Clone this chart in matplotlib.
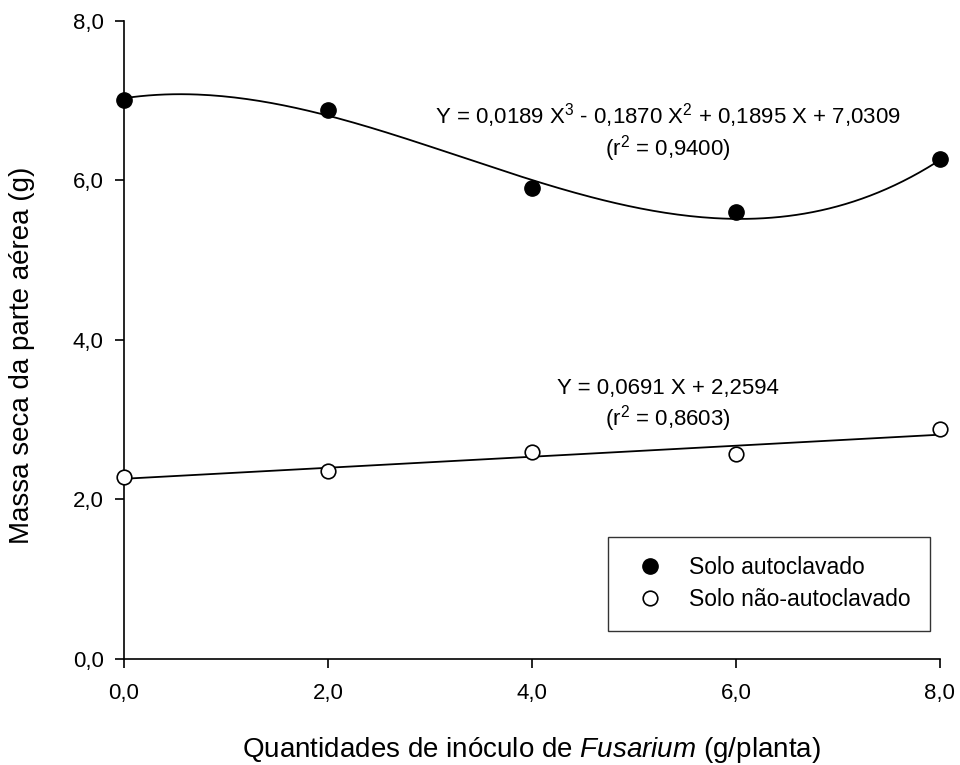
import numpy as np
import matplotlib
matplotlib.use("Agg")
import matplotlib.pyplot as plt
from matplotlib.lines import Line2D

plt.rcParams['font.family'] = ['Liberation Sans', 'DejaVu Sans']
plt.rcParams['mathtext.fontset'] = 'custom'
plt.rcParams['mathtext.rm'] = 'Liberation Sans'
plt.rcParams['mathtext.it'] = 'Liberation Sans:italic'

# data
doses = [0, 2, 4, 6, 8]
autoclavado = [7.01, 6.88, 5.90, 5.60, 6.27]
nao_autoclavado = [2.28, 2.36, 2.60, 2.57, 2.88]

# regression coefficients given in the figure (highest degree first)
coef_cubic = [0.0189, -0.1870, 0.1895, 7.0309]
coef_linear = [0.0691, 2.2594]

ticks = [0, 2, 4, 6, 8]
tick_labels = ["0,0", "2,0", "4,0", "6,0", "8,0"]

fig = plt.figure(figsize=(9.6, 7.65), dpi=100)
ax = fig.add_axes([0.129, 0.1386, 0.850, 0.834])

xs = np.linspace(0, 8, 200)
ax.plot(xs, np.polyval(coef_cubic, xs), color='black', lw=1.3, zorder=2)
ax.plot(xs, np.polyval(coef_linear, xs), color='black', lw=1.3, zorder=2)

ax.plot(doses, autoclavado, 'o', color='black', ms=11, zorder=3, clip_on=False)
ax.plot(doses, nao_autoclavado, 'o', mfc='white', mec='black', mew=1.2, ms=10.5,
        zorder=3, clip_on=False)

ax.set_xlim(0, 8)
ax.set_ylim(0, 8)
ax.set_xticks(ticks)
ax.set_xticklabels(tick_labels)
ax.set_yticks(ticks)
ax.set_yticklabels(tick_labels)
ax.tick_params(direction='out', length=6.5, width=1.2, labelsize=16)
ax.tick_params(axis='x', pad=11)
ax.tick_params(axis='y', pad=8)
for s in ['top', 'right']:
    ax.spines[s].set_visible(False)
for s in ['left', 'bottom']:
    ax.spines[s].set_linewidth(1.2)

ax.set_xlabel("Quantidades de inóculo de $\\it{Fusarium}$ (g/planta)", fontsize=20, va='center')
ax.xaxis.set_label_coords(0.5, -0.143)
ax.set_ylabel("Massa seca da parte aérea (g)", fontsize=20, va='center')
ax.yaxis.set_label_coords(-0.125, 0.476)

ax.text(5.33, 6.82, "Y = 0,0189 X$^3$ - 0,1870 X$^2$ + 0,1895 X + 7,0309",
        fontsize=16, ha='center', va='center')
ax.text(5.33, 6.40, "(r$^2$ = 0,9400)", fontsize=16, ha='center', va='center')
ax.text(5.33, 3.39, "Y = 0,0691 X + 2,2594", fontsize=16, ha='center', va='center')
ax.text(5.33, 3.02, "(r$^2$ = 0,8603)", fontsize=16, ha='center', va='center')

handles = [
    Line2D([], [], marker='o', ls='none', color='black', ms=11),
    Line2D([], [], marker='o', ls='none', mfc='white', mec='black', mew=1.2, ms=10.5),
]
leg = ax.legend(handles, ["Solo autoclavado", "Solo não-autoclavado"],
                loc='lower right', bbox_to_anchor=(0.988, 0.044), fontsize=16.5,
                frameon=True, fancybox=False, edgecolor='black',
                borderpad=0.85, handletextpad=0.7, labelspacing=0.4,
                borderaxespad=0)
leg.get_frame().set_linewidth(1.0)

fig.savefig("out.png", dpi=100)
